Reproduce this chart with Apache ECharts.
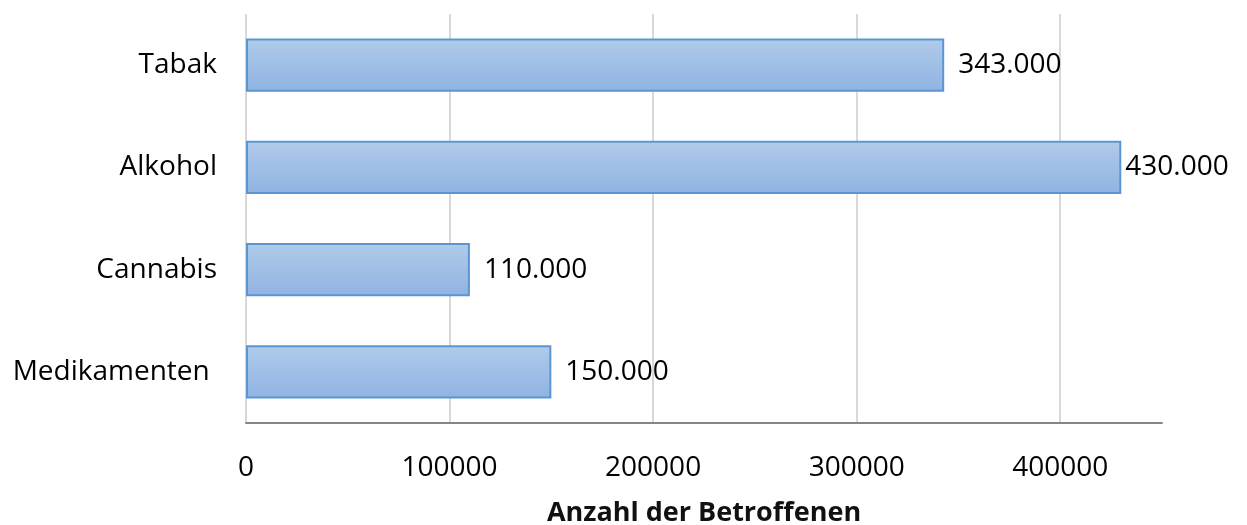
<!DOCTYPE html>
<html>
<head>
<meta charset="utf-8">
<script src="https://cdn.jsdelivr.net/npm/echarts@6/dist/echarts.min.js"></script>
<style>
  html, body { margin: 0; padding: 0; background: #fff; }
  #chart { width: 1247px; height: 525px; }
</style>
</head>
<body>
<div id="chart"></div>
<script>
// Daten (von unten nach oben, wie die Kategorieachse in ECharts zählt)
const categories = ['Medikamenten ', 'Cannabis', 'Alkohol', 'Tabak']
const values = [150000, 110000, 430000, 343000]
const xTicks = [0, 100000, 200000, 300000, 400000]
const axisTitle = 'Anzahl der Betroffenen'

const fontFamily = '"Open Sans", "Liberation Sans", sans-serif'

// Tausenderpunkt wie im Original (343.000)
function fmtDot(v) {
  return String(v).replace(/\B(?=(\d{3})+(?!\d))/g, '.')
}

const chart = echarts.init(document.getElementById('chart'))

const gridGray = '#d9d9d9'

const option = {
  animation: false,
  backgroundColor: '#fff',
  grid: {
    left: 246,
    right: 85,
    top: 14,
    bottom: 102,
    outerBoundsMode: 'none'
  },
  xAxis: {
    type: 'value',
    min: 0,
    max: 450000,
    interval: 100000,
    name: axisTitle,
    nameLocation: 'middle',
    nameGap: 77,
    nameTextStyle: {
      fontFamily: fontFamily,
      fontSize: 27,
      fontWeight: 'bold',
      color: '#111'
    },
    axisLine: { show: true, lineStyle: { color: '#868686', width: 2 } },
    axisTick: { show: false },
    // letzte Linie (bei max) ist im Original nicht da
    splitLine: {
      show: true,
      lineStyle: {
        color: [gridGray, gridGray, gridGray, gridGray, gridGray, 'rgba(0,0,0,0)'],
        width: 2
      }
    },
    axisLabel: {
      margin: 31,
      fontFamily: fontFamily,
      fontSize: 28,
      color: '#000',
      formatter(v) {
        return xTicks.indexOf(v) >= 0 ? String(v) : ''
      }
    }
  },
  yAxis: {
    type: 'category',
    data: categories,
    axisLine: { show: false },
    axisTick: { show: false },
    axisLabel: {
      margin: 29,
      fontFamily: fontFamily,
      fontSize: 28,
      color: '#000'
    }
  },
  series: [{
    type: 'bar',
    barWidth: '52%',
    data: values.map((v, i) => {
      const item = { value: v }
      // Alkohol-Label sitzt im Original fast direkt am Balken
      if (categories[i] === 'Alkohol') item.label = { distance: 4 }
      return item
    }),
    itemStyle: {
      borderColor: '#5b96d3',
      borderWidth: 2,
      color: new echarts.graphic.LinearGradient(0, 0, 0, 1, [
        { offset: 0, color: '#b0cbea' },
        { offset: 1, color: '#8fb3e2' }
      ])
    },
    label: {
      show: true,
      position: 'right',
      distance: 14,
      fontFamily: fontFamily,
      fontSize: 28,
      color: '#000',
      formatter(p) {
        return fmtDot(p.value)
      }
    }
  }]
}

chart.setOption(option)
</script>
</body>
</html>
